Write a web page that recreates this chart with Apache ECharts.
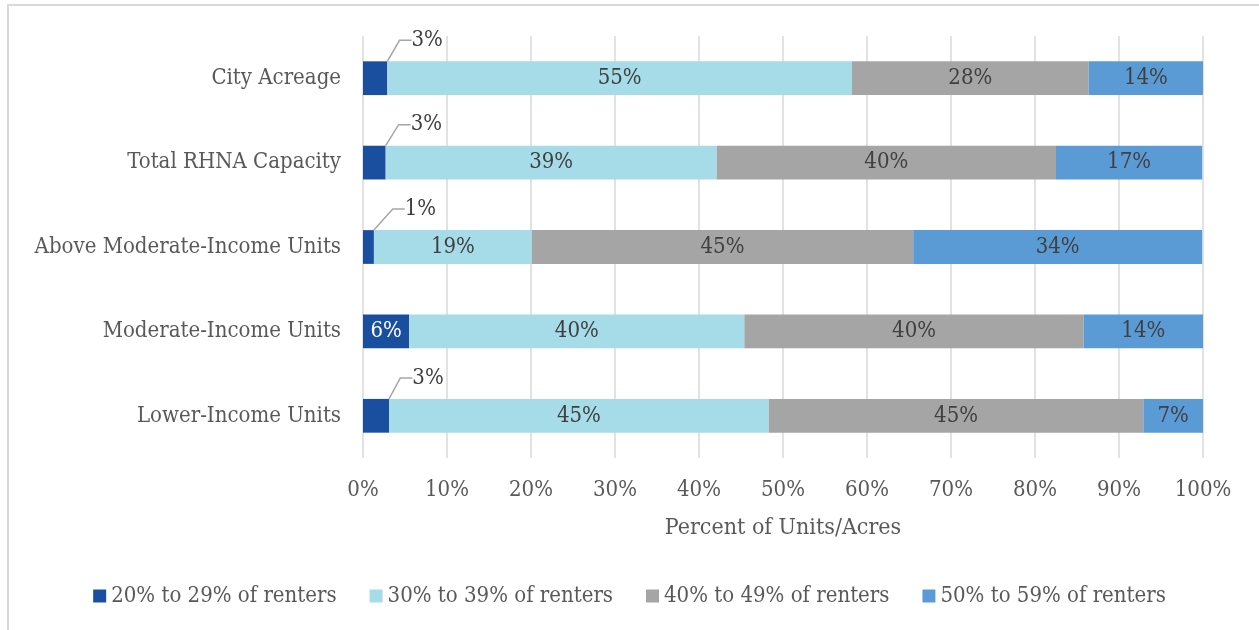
<!DOCTYPE html>
<html>
<head>
<meta charset="utf-8">
<script src="https://cdn.jsdelivr.net/npm/echarts@6/dist/echarts.min.js"></script>
<style>
  html, body { margin: 0; padding: 0; background: #fff; }
  #chart { width: 1259px; height: 630px; }
</style>
</head>
<body>
<div id="chart"></div>
<script>
// categories listed bottom to top (ECharts category y axis starts at the bottom)
const categories = ['Lower-Income Units', 'Moderate-Income Units', 'Above Moderate-Income Units', 'Total RHNA Capacity', 'City Acreage'];
const seriesNames = ['20% to 29% of renters', '30% to 39% of renters', '40% to 49% of renters', '50% to 59% of renters'];
const renters20 = [3.1, 5.5, 1.3, 2.7, 2.9];
const renters30 = [45.2, 39.9, 18.8, 39.4, 55.3];
const renters40 = [44.6, 40.4, 45.4, 40.4, 28.2];
const renters50 = [7.1, 14.2, 34.4, 17.4, 13.6];
const colors = ['#1a4fa0', '#a5dce8', '#a5a5a5', '#5b9bd5'];

const FONT = '"DejaVu Serif Condensed", "DejaVu Serif", serif';
const chart = echarts.init(document.getElementById('chart'));

function pct(p) { return Math.round(p.value) + '%'; }

const baseLabel = { show: true, position: 'inside', color: '#404040', fontFamily: FONT, fontSize: 22, formatter: pct };

// small dark segments get their label pulled out above the bar with a leader line
const darkData = renters20.map(v => v < 5
  ? { value: v, label: { position: 'top', color: '#404040', padding: [0, 0, 0, 6] }, labelLine: { show: true } }
  : { value: v, label: { color: '#ffffff' }, labelLine: { show: false } });

const series = [renters20, renters30, renters40, renters50].map((vals, i) => ({
  name: seriesNames[i],
  type: 'bar',
  stack: 'total',
  barCategoryGap: '60%',
  itemStyle: { color: colors[i] },
  label: baseLabel,
  data: i === 0 ? darkData : vals
}));
series[0].labelLine = { show: true, length2: 12, lineStyle: { color: '#a6a6a6', width: 1.5 } };
series[0].labelLayout = function (p) {
  return renters20[p.dataIndex] < 5 ? { dx: 49, dy: -5 } : {};
};

chart.setOption({
  animation: false,
  textStyle: { fontFamily: FONT },
  graphic: [{
    type: 'rect',
    shape: { x: 8, y: 5, width: 1400, height: 800 },
    style: { fill: 'none', stroke: '#d9d9d9', lineWidth: 2 }
  }],
  grid: { left: 363, right: 56, top: 36, bottom: 172 },
  legend: {
    bottom: 18,
    left: 'center',
    itemWidth: 13,
    itemHeight: 13,
    itemGap: 33,
    icon: 'rect',
    textStyle: { color: '#595959', fontSize: 22, fontFamily: FONT },
    data: seriesNames
  },
  xAxis: {
    type: 'value',
    min: 0,
    max: 100,
    interval: 10,
    axisLabel: { formatter: '{value}%', color: '#595959', fontSize: 22, margin: 21, fontFamily: FONT },
    axisLine: { show: false },
    axisTick: { show: false },
    splitLine: { lineStyle: { color: '#d9d9d9', width: 1.5 } },
    name: 'Percent of Units/Acres',
    nameLocation: 'middle',
    nameGap: 59,
    nameTextStyle: { color: '#595959', fontSize: 23, fontFamily: FONT }
  },
  yAxis: {
    type: 'category',
    data: categories,
    axisLine: { show: false },
    axisTick: { show: false },
    axisLabel: { color: '#595959', fontSize: 22, margin: 22, fontFamily: FONT }
  },
  series: series
});
</script>
</body>
</html>
